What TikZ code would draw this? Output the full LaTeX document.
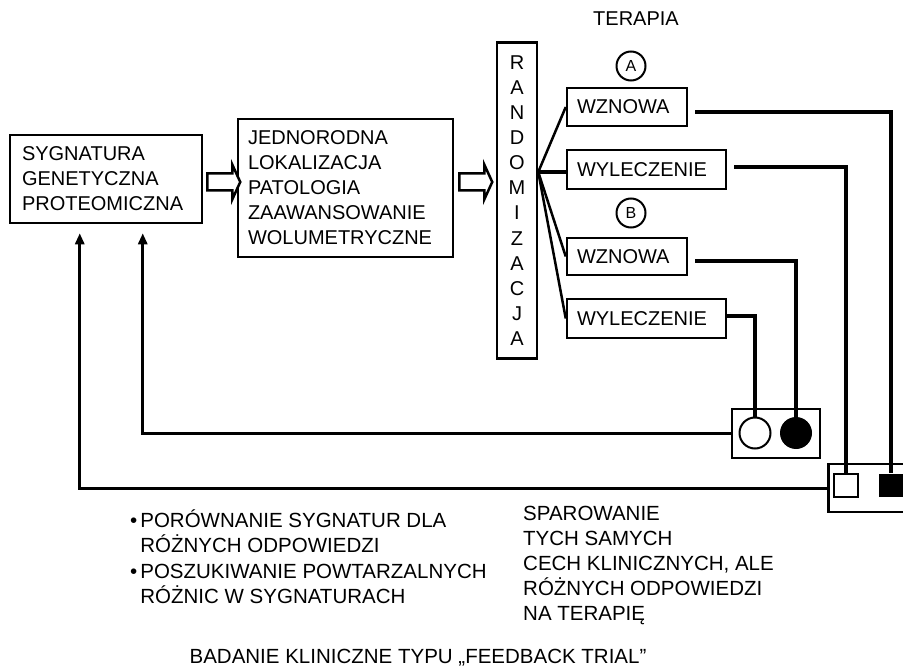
\documentclass[tikz,border=0pt]{standalone}
\usepackage{fontspec}
\setmainfont{Liberation Sans}
\usetikzlibrary{calc,arrows.meta}

\begin{document}
\begin{tikzpicture}[x=1pt,y=-1pt,
  box/.style={draw,line width=2.5pt,inner ysep=0pt,align=left,font=\fontsize{20}{25}\selectfont},
  caption/.style={inner sep=0pt,font=\fontsize{20}{25}\selectfont},
  note/.style={inner sep=0pt,align=left,font=\fontsize{20.5}{24.9}\selectfont},
  tag/.style={draw,circle,line width=2pt,minimum size=29pt,inner sep=0pt,font=\fontsize{16}{16}\selectfont},
  arm/.style={line width=2.5pt},
  wire/.style={line width=3.5pt},
  back/.style={line width=3pt,-{Triangle[length=11pt,width=9pt]}},
  hollow/.style={draw,line width=2.5pt,fill=white,line join=miter}]
\useasboundingbox (0,0) rectangle (903,666);
\clip (0,0) rectangle (903,666);

\node[box,text width=168pt,inner xsep=12pt,minimum height=88pt] (sig) at (106,179) {SYGNATURA\\GENETYCZNA\\PROTEOMICZNA};
\node[box,text width=195pt,inner xsep=10pt,minimum height=138pt] (jed) at (345.5,188) {JEDNORODNA\\LOKALIZACJA\\PATOLOGIA\\ZAAWANSOWANIE\\WOLUMETRYCZNE};
\node[box,align=center,inner xsep=0pt,minimum width=40pt,minimum height=316pt,font=\fontsize{20}{25.1}\selectfont] (rand) at (517,200.5) {R\\A\\N\\D\\O\\M\\I\\Z\\A\\C\\J\\A};

\draw[hollow] ($(sig.east)+(4,-5.5)$) -- ++(25,0) -- ++(0,-9) -- ++(8,17.5) -- ++(-8,17.5) -- ++(0,-9) -- ++(-25,0) -- cycle;
\draw[hollow] ($(jed.east)+(5,-14.5)$) -- ++(25,0) -- ++(0,-9) -- ++(8,17.5) -- ++(-8,17.5) -- ++(0,-9) -- ++(-25,0) -- cycle;

\node[caption] (ter) at (636,19) {TERAPIA};
\node[tag] (tA) at (631,66) {A};
\node[box,text width=100pt,inner xsep=10pt,minimum height=38pt] (wznA) at (627,107) {WZNOWA};
\node[box,text width=139pt,inner xsep=10pt,minimum height=39pt] (wylA) at (646.5,169.5) {WYLECZENIE};
\node[tag] (tB) at (631,213) {B};
\node[box,text width=100pt,inner xsep=10pt,minimum height=37pt] (wznB) at (627,256.5) {WZNOWA};
\node[box,text width=139pt,inner xsep=10pt,minimum height=39pt] (wylB) at (646.5,318.5) {WYLECZENIE};

\coordinate (fan) at ($(rand.east)+(0,-28.5)$);
\draw[arm] (fan) -- (wznA.west);
\draw[wire] (fan) -- (fan -| wylA.west);
\draw[arm] (fan) -- (wznB.west);
\draw[arm] (fan) -- (wylB.west);

% wyniki
\node[draw,line width=2.5pt,minimum width=88pt,minimum height=49pt] (cbox) at (776,433.5) {};
\node[draw,circle,line width=2pt,minimum size=31pt,inner sep=0pt] (cw) at (755,433) {};
\node[circle,fill=black,minimum size=32pt,inner sep=0pt] (cb) at (796,433) {};
\node[draw,line width=2.5pt,minimum width=104pt,minimum height=48pt,anchor=west] (sbox) at (827,488) {};
\node[draw,line width=2pt,minimum width=24pt,minimum height=23pt,inner sep=0pt] (sw) at (846,485) {};
\node[fill=black,minimum width=24pt,minimum height=23pt,inner sep=0pt] (sb) at (891,485) {};

\draw[wire] ($(wznA.east)+(7,5)$) -| (sb.north);
\draw[wire] ($(wylA.east)+(7,-2.5)$) -| (sw.north);
\draw[wire] ($(wznB.east)+(7,4.5)$) -| (cb.north);
\draw[wire] ($(wylB.east)+(0,-2.5)$) -| (cw.north);

% sprzezenie zwrotne
\coordinate (in1) at ($(sig.south west)+(71,9)$);
\coordinate (in2) at ($(sig.south west)+(134,9)$);
\draw[back] (sbox.west) -| (in1);
\draw[back] (cbox.west) -| (in2);

\node[note,anchor=base west] (cmp) at (130,552.5) {•\hspace{3pt}PORÓWNANIE SYGNATUR DLA\\\hspace*{10.2pt}RÓŻNYCH ODPOWIEDZI};
\node[note,anchor=base west] (srch) at (130,603) {•\hspace{3pt}POSZUKIWANIE POWTARZALNYCH\\\hspace*{10.2pt}RÓŻNIC W SYGNATURACH};
\node[note,anchor=base west] (pair) at (523,620.5) {SPAROWANIE\\TYCH SAMYCH\\CECH KLINICZNYCH, ALE\\RÓŻNYCH ODPOWIEDZI\\NA TERAPIĘ};
\node[note,anchor=base] (title) at (418,663) {BADANIE KLINICZNE TYPU „FEEDBACK TRIAL”};
\end{tikzpicture}
\end{document}
